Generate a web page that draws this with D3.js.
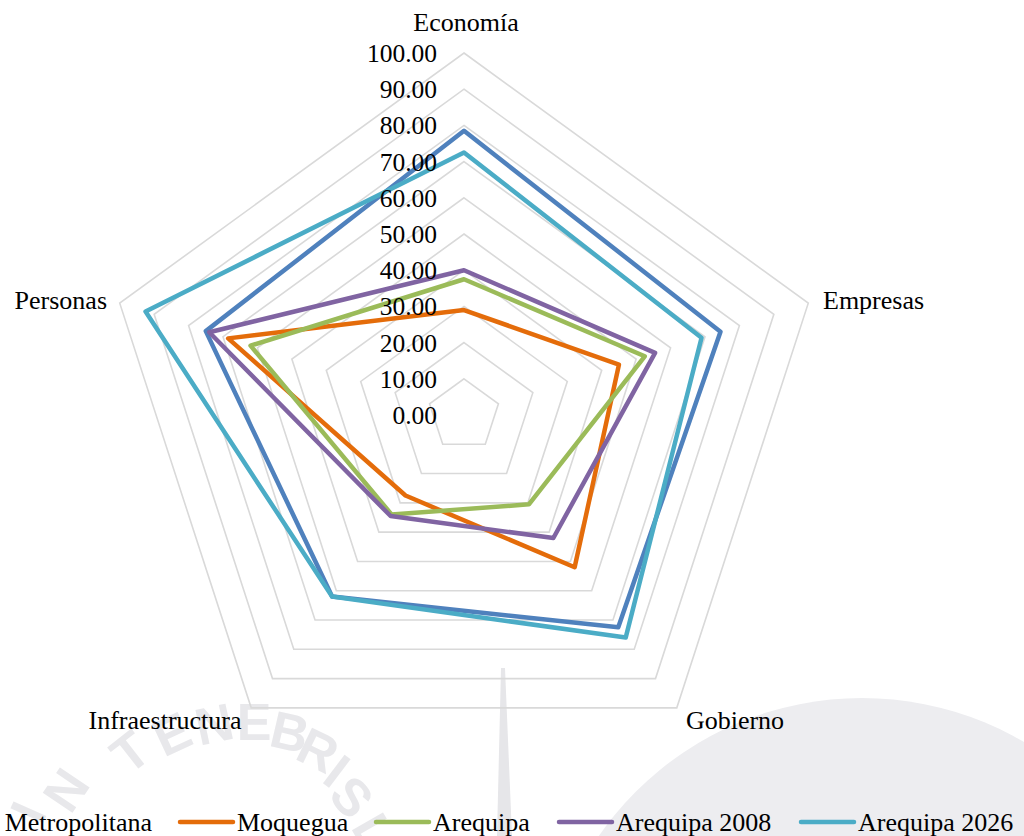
<!DOCTYPE html>
<html>
<head>
<meta charset="utf-8">
<script src="https://cdn.jsdelivr.net/npm/d3@7"></script>
<style>
  html, body { margin: 0; padding: 0; background: #fff; overflow: hidden; }
  svg { display: block; }
</style>
</head>
<body>
<svg id="chart" width="1024" height="836"></svg>
<script>
// ---- data ----
const axesLabels = ["Economía", "Empresas", "Gobierno", "Infraestructura", "Personas"];
const seriesNames = ["Lima Metropolitana", "Moquegua", "Arequipa", "Arequipa 2008", "Arequipa 2026"];
const limaValues = [78.5, 74.5, 72.5, 62, 75];
const moqueguaValues = [29, 45, 52, 27.5, 68.5];
const arequipaValues = [37.5, 52.5, 30.5, 34, 62];
const arequipa2008Values = [40, 55.5, 42, 34.5, 74];
const arequipa2026Values = [72.5, 69, 76, 62, 92.5];
const tickValues = [0, 10, 20, 30, 40, 50, 60, 70, 80, 90, 100];
const seriesColors = ["#4f81bd", "#e46c0a", "#9bbb59", "#8064a2", "#4bacc6"];
const watermarkLetters = ["I", "N", "T", "E", "N", "E", "B", "R", "I", "S", "L"];

const seriesValues = [limaValues, moqueguaValues, arequipaValues, arequipa2008Values, arequipa2026Values];

const svg = d3.select("#chart");
const cx = 464, cy = 415;
const rScale = d3.scaleLinear().domain([0, 100]).range([0, 362]);
const angle = d3.scaleLinear().domain([0, axesLabels.length]).range([0, 2 * Math.PI]);
const font = "'Liberation Serif', 'Times New Roman', serif";

// ---- watermark (background) ----
const wm = svg.append("g").attr("class", "watermark");
wm.append("circle").attr("cx", 862).attr("cy", 1018).attr("r", 320).attr("fill", "#ededf0");
wm.append("path")
  .attr("d", "M501,668 L505,668 L512,836 L497,836 Z")
  .attr("fill", "#e6e6e9");
// letter layout along the seal's arc (x, y, rotation)
const wmLayout = [
  [28, 812, -66], [66, 790, -56], [130, 752, -38], [172, 734, -25], [214, 724, -12],
  [254, 722, 0], [290, 732, 13], [318, 750, 26], [337, 771, 37], [352, 797, 48], [374, 832, 60]
];
wm.selectAll("text.wm")
  .data(watermarkLetters)
  .join("text")
  .attr("class", "wm")
  .attr("transform", (d, i) => `translate(${wmLayout[i][0]},${wmLayout[i][1]}) rotate(${wmLayout[i][2]})`)
  .attr("text-anchor", "middle")
  .attr("dy", "0.35em")
  .attr("font-family", "'Liberation Sans', Arial, sans-serif")
  .attr("font-weight", "bold")
  .attr("font-size", 52)
  .attr("fill", "#e8e8eb")
  .text(d => d);

const g = svg.append("g").attr("transform", `translate(${cx},${cy})`);

function pt(i, v) {
  const a = angle(i);
  const r = rScale(v);
  return [r * Math.sin(a), -r * Math.cos(a)];
}

// ---- grid pentagons ----
const gridLine = d3.line().curve(d3.curveLinearClosed);
g.selectAll("path.grid")
  .data(tickValues.filter(v => v > 0))
  .join("path")
  .attr("class", "grid")
  .attr("d", v => gridLine(axesLabels.map((_, i) => pt(i, v))))
  .attr("fill", "none")
  .attr("stroke", "#d9d9d9")
  .attr("stroke-width", 1.6);

// ---- series ----
const seriesLine = d3.line().curve(d3.curveLinearClosed);
g.selectAll("path.series")
  .data(seriesValues)
  .join("path")
  .attr("class", "series")
  .attr("d", vals => seriesLine(vals.map((v, i) => pt(i, v))))
  .attr("fill", "none")
  .attr("stroke", (d, i) => seriesColors[i])
  .attr("stroke-width", 4.5)
  .attr("stroke-linejoin", "round");

// ---- tick labels ----
g.selectAll("text.tick")
  .data(tickValues)
  .join("text")
  .attr("class", "tick")
  .attr("x", -27)
  .attr("y", v => -rScale(v))
  .attr("dy", "0.35em")
  .attr("text-anchor", "end")
  .attr("font-family", font)
  .attr("font-size", 25.5)
  .attr("fill", "#000")
  .text(v => d3.format(".2f")(v));

// ---- axis labels ----
const labelPos = [
  {x: 466 - cx, y: 22 - cy, anchor: "middle"},
  {x: 823 - cx, y: 300 - cy, anchor: "start"},
  {x: 735 - cx, y: 720 - cy, anchor: "middle"},
  {x: 165 - cx, y: 720 - cy, anchor: "middle"},
  {x: 107 - cx, y: 300 - cy, anchor: "end"}
];
g.selectAll("text.axis")
  .data(axesLabels)
  .join("text")
  .attr("class", "axis")
  .attr("x", (d, i) => labelPos[i].x)
  .attr("y", (d, i) => labelPos[i].y)
  .attr("dy", "0.35em")
  .attr("text-anchor", (d, i) => labelPos[i].anchor)
  .attr("font-family", font)
  .attr("font-size", 26)
  .attr("fill", "#000")
  .text(d => d);

// ---- legend ----
const legendY = 822;
const legendTextX = [152, 237, 433, 616, 858];
const lg = svg.append("g").attr("class", "legend");
seriesNames.forEach((name, i) => {
  const tx = legendTextX[i];
  if (i > 0) {
    lg.append("line")
      .attr("x1", tx - 57).attr("x2", tx - 4)
      .attr("y1", legendY).attr("y2", legendY)
      .attr("stroke", seriesColors[i])
      .attr("stroke-width", 4.5)
      .attr("stroke-linecap", "round");
    lg.append("text")
      .attr("x", tx).attr("y", legendY).attr("dy", "0.35em")
      .attr("font-family", font).attr("font-size", 26).attr("fill", "#000")
      .text(name);
  } else {
    // first entry is cut off at the left edge in the original
    lg.append("text")
      .attr("x", tx).attr("y", legendY).attr("dy", "0.35em")
      .attr("text-anchor", "end")
      .attr("font-family", font).attr("font-size", 26).attr("fill", "#000")
      .text(name.replace("Lima ", ""));
  }
});
</script>
</body>
</html>
